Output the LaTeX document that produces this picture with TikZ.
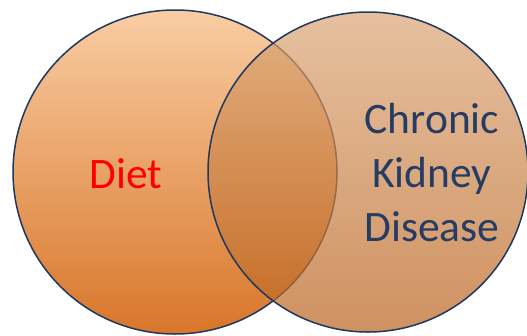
\documentclass[tikz,border=0pt]{standalone}
\usepackage{fontspec}
\setmainfont{Carlito}
\usepackage{tikz}
\usetikzlibrary{positioning}

\definecolor{rimblue}{RGB}{31,56,96}
\definecolor{textblue}{RGB}{38,60,98}
\definecolor{dietTop}{RGB}{249,205,163}
\definecolor{dietBot}{RGB}{216,118,42}
\definecolor{ckdTop}{RGB}{219,166,119}
\definecolor{ckdBot}{RGB}{188,100,30}

\tikzset{
  setcircle/.style={circle, minimum size=#1, inner sep=0pt},
  label/.style={font=\fontsize{43.5}{54}\selectfont, anchor=base, inner sep=0pt}
}

\begin{document}
\begin{tikzpicture}[x=1pt, y=1pt]
  \useasboundingbox[fill=white] (0,0) rectangle (527,-335);

  % left set
  \node[setcircle=324pt, top color=dietTop, bottom color=dietBot, draw=rimblue, line width=1.5pt] (diet) at (175,-172) {};

  % right set, see-through
  \node[setcircle=320pt, top color=ckdTop, bottom color=ckdBot, fill opacity=0.7] (ckd) at (368,-172) {};
  \node[setcircle=320pt, draw=rimblue, line width=1.5pt] (ckdrim) at (ckd) {};

  \node[label, text=red] (dietlbl) at (126,-188) {Diet};
  \node[label, text=textblue] (ckd1) at (432,-133) {Chronic};
  \node[label, text=textblue] (ckd2) at (432,-187) {Kidney};
  \node[label, text=textblue] (ckd3) at (432,-241) {Disease};
\end{tikzpicture}
\end{document}
